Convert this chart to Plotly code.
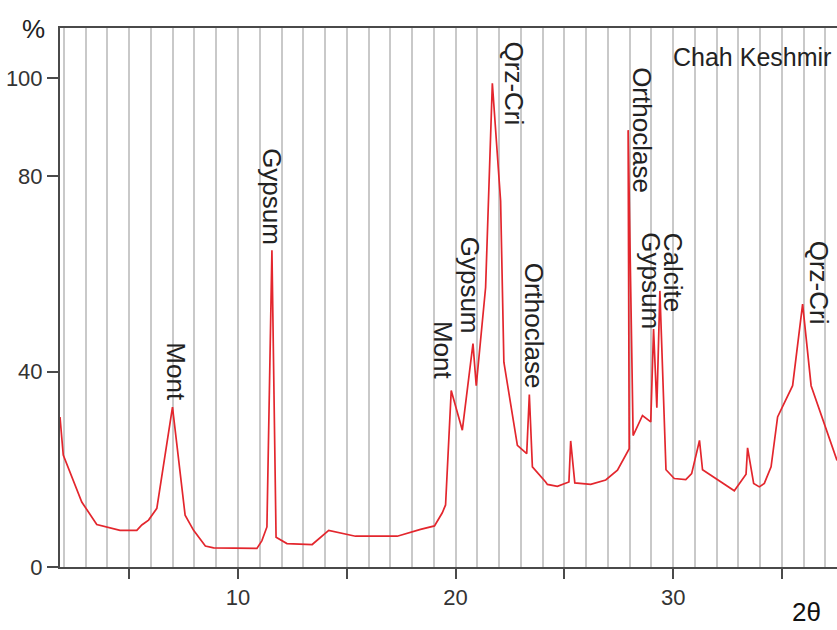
import plotly.graph_objects as go

# XRD pattern, Chah Keshmir (2-theta vs relative intensity %)
two_theta = [1.82, 1.97, 2.82, 3.51, 4.58, 5.35, 5.58, 5.89, 6.27, 6.99, 7.57, 7.96, 8.50, 8.88,
             10.87, 11.10, 11.33, 11.56, 11.75, 12.25, 13.41, 14.17, 15.40, 17.32, 18.39, 19.03,
             19.39, 19.54, 19.80, 20.31, 20.80, 20.95, 21.38, 21.69, 22.07, 22.22, 22.84, 23.27,
             23.39, 23.53, 24.14, 24.22, 24.68, 25.21, 25.29, 25.48, 26.21, 26.90, 27.44, 27.78,
             27.98, 27.93, 28.16, 28.59, 28.97, 29.10, 29.25, 29.39, 29.67, 30.05, 30.58, 30.85,
             31.21, 31.35, 32.81, 33.35, 33.42, 33.70, 33.96, 34.19, 34.50, 34.80, 35.49, 35.95,
             36.34, 37.53]
intensity = [30.7, 22.9, 13.3, 8.7, 7.5, 7.5, 8.6, 9.6, 12.0, 32.7, 10.6, 7.5, 4.3, 3.9,
             3.8, 5.4, 8.2, 64.8, 6.1, 4.8, 4.6, 7.5, 6.3, 6.3, 7.7, 8.4,
             11.1, 12.7, 36.1, 28.0, 45.7, 37.1, 57.2, 99.0, 74.9, 41.9, 24.9, 23.2,
             35.3, 20.5, 17.4, 16.9, 16.5, 17.4, 25.8, 17.2, 16.9, 17.8, 19.8, 22.5,
             24.2, 89.4, 26.9, 31.0, 29.7, 48.7, 32.6, 56.5, 19.9, 18.1, 17.9, 19.1,
             25.9, 19.9, 15.6, 19.0, 24.4, 17.1, 16.4, 17.1, 20.5, 30.7, 37.1, 53.8,
             37.1, 21.8]

# Peak labels (mineral names) and their positions
label_text = ["Mont", "Gypsum", "Mont", "Gypsum", "Qrz-Cri", "Orthoclase",
              "Orthoclase", "Gypsum", "Calcite", "Qrz-Cri"]
label_x = [7.16, 11.56, 19.45, 20.70, 22.67, 23.60, 28.59, 29.00, 29.97, 36.70]
label_y = [40.0, 75.7, 44.3, 57.6, 99.0, 49.4, 89.3, 58.6, 60.3, 58.2]

y_tickvals = [0, 40, 80, 100]
x_tickvals = [5, 10, 15, 20, 25, 30, 35]
x_ticktext = ["", "10", "", "20", "", "30", ""]

FONT = "Liberation Sans, Arial, sans-serif"
RED = "#e3262d"
AXIS = "#4a4a4a"

fig = go.Figure()
fig.add_trace(go.Scatter(x=two_theta, y=intensity, mode="lines",
                         line=dict(color=RED, width=1.7), hoverinfo="skip",
                         showlegend=False))

annotations = []
for t, x, y in zip(label_text, label_x, label_y):
    annotations.append(dict(x=x, y=y, xref="x", yref="y", text=t, textangle=90,
                            showarrow=False, xanchor="center", yanchor="middle",
                            font=dict(family=FONT, size=26, color="#222222")))

annotations.append(dict(x=0.995, y=0.946, xref="paper", yref="paper", text="Chah Keshmir",
                        showarrow=False, xanchor="right", yanchor="middle",
                        font=dict(family=FONT, size=25, color="#222222")))
annotations.append(dict(x=-0.034, y=0.998, xref="paper", yref="paper", text="%",
                        showarrow=False, xanchor="center", yanchor="middle",
                        font=dict(family=FONT, size=26, color="#222222")))
annotations.append(dict(x=0.961, y=-0.083, xref="paper", yref="paper", text="2θ",
                        showarrow=False, xanchor="center", yanchor="middle",
                        font=dict(family=FONT, size=26, color="#111111")))

fig.update_layout(
    width=837, height=630,
    margin=dict(l=60, r=0, t=28, b=63),
    paper_bgcolor="white", plot_bgcolor="white",
    annotations=annotations,
    xaxis=dict(range=[1.82, 37.53], showgrid=True, gridcolor="#c9c9c9", gridwidth=1.5,
               tickmode="array", tickvals=x_tickvals, ticktext=x_ticktext,
               ticks="outside", ticklen=10, tickwidth=1.5, tickcolor=AXIS,
               showline=True, linecolor=AXIS, linewidth=2, mirror=True,
               zeroline=False,
               tickfont=dict(family=FONT, size=22, color="#333333")),
    yaxis=dict(range=[0, 110.3], showgrid=False,
               tickmode="array", tickvals=y_tickvals,
               ticks="outside", ticklen=11, tickwidth=1.5, tickcolor=AXIS,
               showline=True, linecolor=AXIS, linewidth=2, zeroline=False,
               tickfont=dict(family=FONT, size=22, color="#333333")),
)
fig.update_xaxes(minor=dict(tickmode="linear", dtick=1, showgrid=True,
                            gridcolor="#c9c9c9", gridwidth=1.5, ticks=""))

fig.write_html("out.html", config={"displayModeBar": False},
               post_script="document.body.style.margin='0';document.body.style.overflow='hidden';")
